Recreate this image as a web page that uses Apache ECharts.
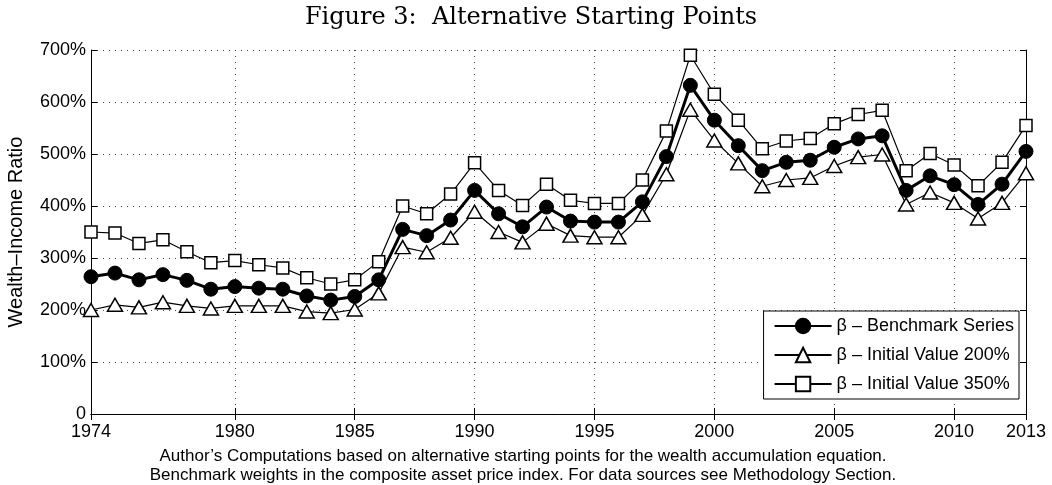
<!DOCTYPE html>
<html>
<head>
<meta charset="utf-8">
<script src="https://cdn.jsdelivr.net/npm/echarts@6/dist/echarts.min.js"></script>
<style>
  html, body { margin: 0; padding: 0; background: #fff; }
  #chart { width: 1052px; height: 485px; }
</style>
</head>
<body>
<div id="chart"></div>
<script>
// ---- data ----
var years = [1974,1975,1976,1977,1978,1979,1980,1981,1982,1983,1984,1985,1986,1987,1988,1989,1990,1991,1992,1993,1994,1995,1996,1997,1998,1999,2000,2001,2002,2003,2004,2005,2006,2007,2008,2009,2010,2011,2012,2013];
var benchmark = [264,271,258,268,257,240,245,242,240,227,219,226,258,355,343,373,430,385,360,398,371,369,369,408,495,632,565,516,468,484,488,513,529,535,430,458,441,403,442,505];
var init200 = [200,210,205,215,208,203,208,208,208,197,194,201,232,321,311,339,389,350,330,366,343,340,340,383,461,585,526,482,438,450,454,477,494,499,403,426,406,376,406,463];
var init350 = [350,348,328,335,312,291,295,287,281,262,250,258,293,400,385,423,483,430,401,442,411,405,405,450,544,690,615,565,510,525,530,558,576,584,468,501,479,439,484,555];
var tickYears = [1974,1980,1985,1990,1995,2000,2005,2010,2013];
var seriesNames = ['β – Benchmark Series', 'β – Initial Value 200%', 'β – Initial Value 350%'];
var titleText = 'Figure 3:  Alternative Starting Points';
var captionText = 'Author\u2019s Computations based on alternative starting points for the wealth accumulation equation.\nBenchmark weights in the composite asset price index. For data sources see Methodology Section.';
var yName = 'Wealth\u2013Income Ratio';

var sans = 'Liberation Sans, Arial, Helvetica, sans-serif';
var isTick = function (idx, val) { return tickYears.indexOf(+val) >= 0; };

var chart = echarts.init(document.getElementById('chart'), null, { renderer: 'canvas' });
chart.setOption({
  animation: false,
  backgroundColor: '#fff',
  title: [
    { text: titleText, left: 526, textAlign: 'center', top: 1,
      textStyle: { fontFamily: 'DejaVu Serif, serif', fontWeight: 'normal', fontSize: 24, color: '#000' } },
    { text: captionText, left: 518, textAlign: 'center', top: 442,
      textStyle: { fontFamily: sans, fontWeight: 'normal', fontSize: 17, lineHeight: 19, color: '#000', align: 'center' } }
  ],
  grid: { left: 91, right: 26, top: 50, bottom: 71, containLabel: false, outerBoundsMode: 'none' },
  legend: {
    orient: 'vertical', right: 33, bottom: 86, align: 'left',
    backgroundColor: '#fff', borderColor: '#000', borderWidth: 1,
    padding: [6, 5, 6, 10], itemWidth: 57, itemHeight: 18, itemGap: 11,
    textStyle: { fontFamily: sans, fontSize: 18, color: '#000' },
    data: seriesNames
  },
  xAxis: [
    { type: 'category', data: years, boundaryGap: false, position: 'bottom',
      axisLine: { lineStyle: { color: '#000', width: 1 } },
      axisTick: { inside: true, length: 6, interval: isTick, lineStyle: { color: '#000' } },
      axisLabel: { interval: isTick, margin: 9, fontFamily: sans, fontSize: 18, color: '#000' },
      splitLine: { show: true, interval: isTick, lineStyle: { color: '#444', type: [1, 5], width: 1 } } },
    { type: 'category', data: years, boundaryGap: false, position: 'top',
      axisLine: { lineStyle: { color: '#000', width: 1 } },
      axisTick: { inside: true, length: 6, interval: isTick, lineStyle: { color: '#000' } },
      axisLabel: { show: false }, splitLine: { show: false } }
  ],
  yAxis: [
    { type: 'value', min: 0, max: 700, interval: 100, position: 'left',
      name: yName, nameLocation: 'middle', nameGap: 65,
      nameTextStyle: { fontFamily: sans, fontSize: 20, color: '#000' },
      axisLine: { show: true, lineStyle: { color: '#000', width: 1 } },
      axisTick: { show: true, inside: true, length: 6, lineStyle: { color: '#000' } },
      axisLabel: { margin: 5, fontFamily: sans, fontSize: 18, color: '#000',
        formatter: function (v) { return v === 0 ? '0' : v + '%'; } },
      splitLine: { show: true, lineStyle: { color: '#444', type: [1, 5], width: 1 } } },
    { type: 'value', min: 0, max: 700, interval: 100, position: 'right',
      axisLine: { show: true, lineStyle: { color: '#000', width: 1 } },
      axisTick: { show: true, inside: true, length: 6, lineStyle: { color: '#000' } },
      axisLabel: { show: false }, splitLine: { show: false } }
  ],
  series: [
    { name: seriesNames[0], type: 'line', data: benchmark, xAxisIndex: 0, yAxisIndex: 0,
      symbol: 'circle', symbolSize: 14, showAllSymbol: true,
      lineStyle: { color: '#000', width: 3 },
      itemStyle: { color: '#000', borderColor: '#000', borderWidth: 1 }, emphasis: { disabled: true } },
    { name: seriesNames[1], type: 'line', data: init200, xAxisIndex: 0, yAxisIndex: 0,
      symbol: 'triangle', symbolSize: [15, 13], showAllSymbol: true,
      lineStyle: { color: '#000', width: 1.2 },
      itemStyle: { color: '#fff', borderColor: '#000', borderWidth: 1.5 }, emphasis: { disabled: true } },
    { name: seriesNames[2], type: 'line', data: init350, xAxisIndex: 0, yAxisIndex: 0,
      symbol: 'rect', symbolSize: 12, showAllSymbol: true,
      lineStyle: { color: '#000', width: 1.2 },
      itemStyle: { color: '#fff', borderColor: '#000', borderWidth: 1.5 }, emphasis: { disabled: true } }
  ]
});
</script>
</body>
</html>
